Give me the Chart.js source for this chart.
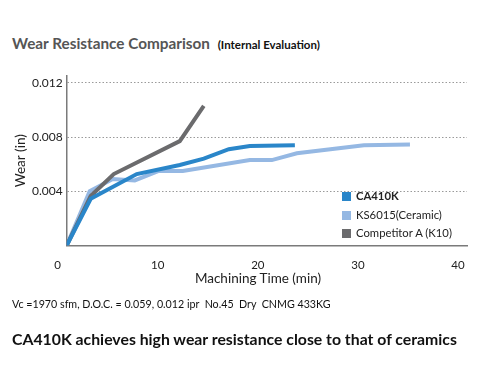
<!DOCTYPE html>
<html lang="en">
<head>
    <meta charset="UTF-8">
    <title>Wear Resistance Comparison</title>
    <script src="https://cdn.jsdelivr.net/npm/chart.js"></script>
    <style>
        body { margin: 0; background: #fff; font-family: Lato, "DejaVu Sans", sans-serif; }
        #wrap { position: relative; width: 480px; height: 380px; overflow: hidden; }
        #chartBox { position: absolute; left: 0; top: 0; width: 480px; height: 290px; }
        .title { position: absolute; left: 12px; top: 34px; font-size: 15.3px; font-weight: bold; color: #555; white-space: nowrap; }
        .title span { font-size: 11.5px; color: #111; margin-left: 4px; }
        .xtitle { position: absolute; left: 0; width: 516px; top: 270px; text-align: center; font-size: 13.5px; color: #222; }
        .legend { position: absolute; left: 342px; top: 188px; font-size: 11.3px; color: #222; }
        .legend div { height: 18.5px; line-height: 16px; white-space: nowrap; }
        .legend i { display: inline-block; width: 9px; height: 9px; margin-right: 5px; vertical-align: -1px; }
        .cond { position: absolute; left: 12px; top: 297px; font-size: 10.7px; color: #111; white-space: nowrap; }
        .summary { position: absolute; left: 12px; top: 329px; font-size: 15.8px; font-weight: bold; color: #111; white-space: nowrap; }
    </style>
</head>
<body>
<div id="wrap">
    <div class="title">Wear Resistance Comparison <span>(Internal Evaluation)</span></div>
    <div id="chartBox"><canvas id="wearChart" width="480" height="290"></canvas></div>
    <div class="xtitle">Machining Time (min)</div>
    <div class="legend">
        <div><i style="background:#2a86c9"></i><b>CA410K</b></div>
        <div><i style="background:#95b8e3"></i>KS6015(Ceramic)</div>
        <div><i style="background:#6b6b6d"></i>Competitor A (K10)</div>
    </div>
    <div class="cond">Vc =1970 sfm, D.O.C. = 0.059, 0.012 ipr&nbsp; No.45&nbsp; Dry&nbsp; CNMG 433KG</div>
    <div class="summary">CA410K achieves high wear resistance close to that of ceramics</div>
</div>

<script>
    // values (time in min, wear in inches)
    const caTime = [0, 2.4, 7.0, 11.3, 13.7, 16.2, 18.3, 22.8];
    const caWear = [0, 0.00345, 0.00527, 0.00594, 0.0064, 0.0071, 0.00733, 0.0074];

    const ksTime = [0, 2.3, 4.6, 6.8, 9.2, 11.6, 18.3, 20.5, 23.0, 29.7, 34.3];
    const ksWear = [0, 0.0040, 0.0049, 0.0048, 0.0055, 0.0055, 0.0063, 0.0063, 0.0068, 0.0074, 0.00745];

    const compTime = [0, 2.4, 4.7, 11.3, 13.7];
    const compWear = [0, 0.00365, 0.00527, 0.0077, 0.0103];

    const xTicks = [0, 10, 20, 30, 40];
    const yTicks = [0.004, 0.008, 0.012];

    const toPoints = (xs, ys) => xs.map((x, i) => ({ x: x, y: ys[i] }));

    const lineStyle = {
        borderWidth: 4,
        pointRadius: 0,
        tension: 0,
        fill: false
    };

    const ctx = document.getElementById('wearChart').getContext('2d');
    new Chart(ctx, {
        type: 'line',
        data: {
            datasets: [
                Object.assign({ label: 'CA410K', data: toPoints(caTime, caWear), borderColor: '#2a86c9' }, lineStyle),
                Object.assign({ label: 'Competitor A (K10)', data: toPoints(compTime, compWear), borderColor: '#6b6b6d' }, lineStyle),
                Object.assign({ label: 'KS6015(Ceramic)', data: toPoints(ksTime, ksWear), borderColor: '#95b8e3' }, lineStyle)
            ]
        },
        options: {
            responsive: false,
            animation: false,
            devicePixelRatio: 1,
            layout: { padding: { top: 76, right: 13, left: 0, bottom: 0 } },
            plugins: { legend: { display: false }, tooltip: { enabled: false } },
            scales: {
                x: {
                    type: 'linear',
                    min: 0,
                    max: 40,
                    afterBuildTicks: s => { s.ticks = xTicks.map(v => ({ value: v })); },
                    afterFit: s => { s.height = 44.5; },
                    grid: { display: false },
                    border: { display: true, color: '#7a7a7a', width: 1.5 },
                    ticks: {
                        color: '#222',
                        font: { family: 'Lato', size: 11.5 },
                        padding: 5,
                        labelOffset: -9,
                        maxRotation: 0
                    }
                },
                y: {
                    min: 0,
                    max: 0.0125,
                    afterBuildTicks: s => { s.ticks = [0].concat(yTicks).map(v => ({ value: v })); },
                    afterFit: s => { s.width = 66.7; },
                    grid: { color: '#9a9a9a', lineWidth: 1, drawTicks: false },
                    // in v4 border.dash sets the dash of the grid lines
                    border: { display: true, color: '#7a7a7a', width: 1.5, dash: [1.5, 2] },
                    ticks: {
                        color: '#222',
                        font: { family: 'Lato', size: 12 },
                        padding: 4,
                        callback: v => v === 0 ? '' : v.toFixed(3)
                    },
                    title: {
                        display: true,
                        text: 'Wear (in)',
                        color: '#222',
                        font: { family: 'Lato', size: 13.5 },
                        padding: { top: 13, bottom: 0 }
                    }
                }
            }
        }
    });
</script>
</body>
</html>
